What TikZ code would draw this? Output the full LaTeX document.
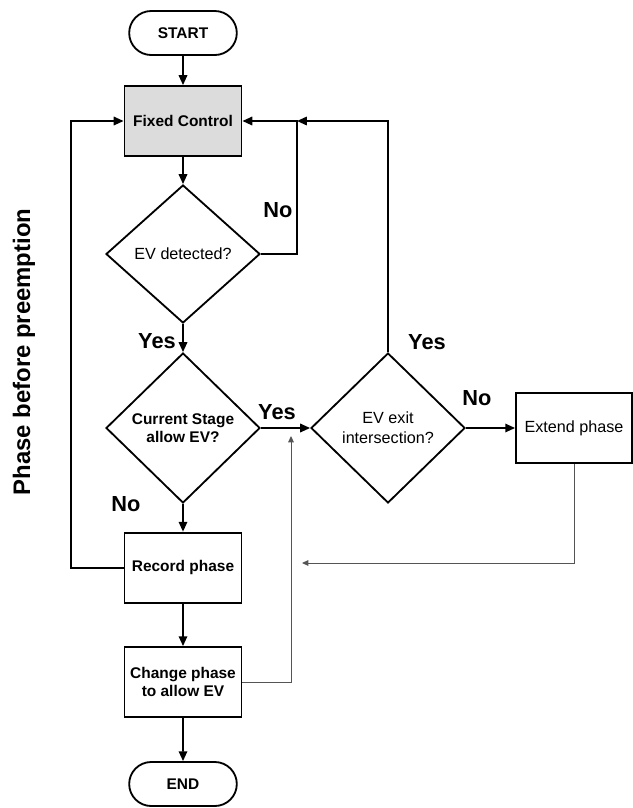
\documentclass[tikz,border=0pt]{standalone}
\usepackage{fontspec}
\setmainfont{Liberation Sans}
\usetikzlibrary{shapes.geometric,shapes.misc,arrows.meta}

\definecolor{boxgray}{RGB}{220,220,220}
\definecolor{thingray}{RGB}{85,85,85}

\tikzset{
  startstop/.style={draw, line width=1.3pt, rounded rectangle, minimum width=2.925cm,
    minimum height=1.1cm, font=\fontsize{11}{13}\selectfont\bfseries},
  procbox/.style={draw, line width=1.3pt, rectangle, minimum width=2.925cm,
    minimum height=1.75cm, align=center, font=\fontsize{11}{13}\selectfont\bfseries},
  decbox/.style={draw, line width=1.3pt, diamond, inner sep=0pt, minimum width=3.85cm,
    minimum height=3.75cm, align=center, font=\fontsize{11}{13}\selectfont\bfseries},
  yesno/.style={font=\fontsize{15.5}{17}\selectfont\bfseries},
  flowline/.style={line width=1.3pt, -{Triangle[length=7pt,width=6pt]}},
  backline/.style={line width=0.7pt, draw=thingray, -{Triangle[length=4.5pt,width=4pt]}}
}

\begin{document}
\begin{tikzpicture}
  \useasboundingbox (0,0) rectangle (15.825,-20.2);

  % Draw the boxes of the main column
  \node[startstop] (start) at (4.575,-0.825) {START};
  \node[procbox, fill=boxgray] (fixed) at (4.575,-3.025) {Fixed Control};
  \node[decbox, minimum height=3.45cm, font=\fontsize{11.5}{13}\selectfont] (detect)
    at (4.575,-6.35) {EV detected?};
  \node[decbox] (stage) at (4.575,-10.7) {Current Stage\\allow EV?};
  \node[procbox] (record) at (4.575,-14.19) {Record phase};
  \node[procbox] (change) at (4.575,-17.05) {Change phase\\to allow EV};
  \node[startstop] (finish) at (4.575,-19.6) {END};

  % Draw the boxes on the right
  \node[decbox, font=\fontsize{11.5}{14}\selectfont] (exit) at (9.7,-10.7)
    {EV exit\\intersection?};
  \node[procbox, minimum width=2.9cm, font=\fontsize{11.5}{13}\selectfont] (extend)
    at (14.35,-10.7) {Extend phase};

  % Points where the loops meet
  \coordinate (join) at (7.425,-3.025);
  \coordinate (tipup) at (7.275,-10.9);
  \coordinate (tipleft) at (7.55,-14.075);

  % Draw the straight arrows
  \draw[flowline] (start) -- (fixed);
  \draw[flowline] (fixed) -- (detect);
  \draw[flowline] (detect) -- (stage);
  \draw[flowline] (stage) -- (record);
  \draw[flowline] (record) -- (change);
  \draw[flowline] (change) -- (finish);
  \draw[flowline] (stage) -- (exit);
  \draw[flowline] (exit) -- (extend);

  % Draw the loops back to Fixed Control
  \draw[flowline] (record.west) -- (1.775,-14.19) |- (fixed.west);
  \draw[flowline] (detect.east) -| (join) -- (fixed.east);
  \draw[flowline] (exit.north) |- (join);

  % Draw the thin lines at the bottom
  \draw[backline] (change.east) -| (tipup);
  \draw[backline] (extend.south) |- (tipleft);

  % Add the Yes and No labels
  \node[yesno] (nodetect) at (6.95,-5.25) {No};
  \node[yesno] (yesdetect) at (3.925,-8.525) {Yes};
  \node[yesno] (yesstage) at (6.925,-10.3) {Yes};
  \node[yesno] (nostage) at (3.15,-12.6) {No};
  \node[yesno] (yesexit) at (10.675,-8.55) {Yes};
  \node[yesno] (noexit) at (11.925,-9.95) {No};

  % Add the side title
  \node[rotate=90, font=\fontsize{17}{19}\selectfont\bfseries] (side) at (0.6,-8.8)
    {Phase before preemption};
\end{tikzpicture}
\end{document}
